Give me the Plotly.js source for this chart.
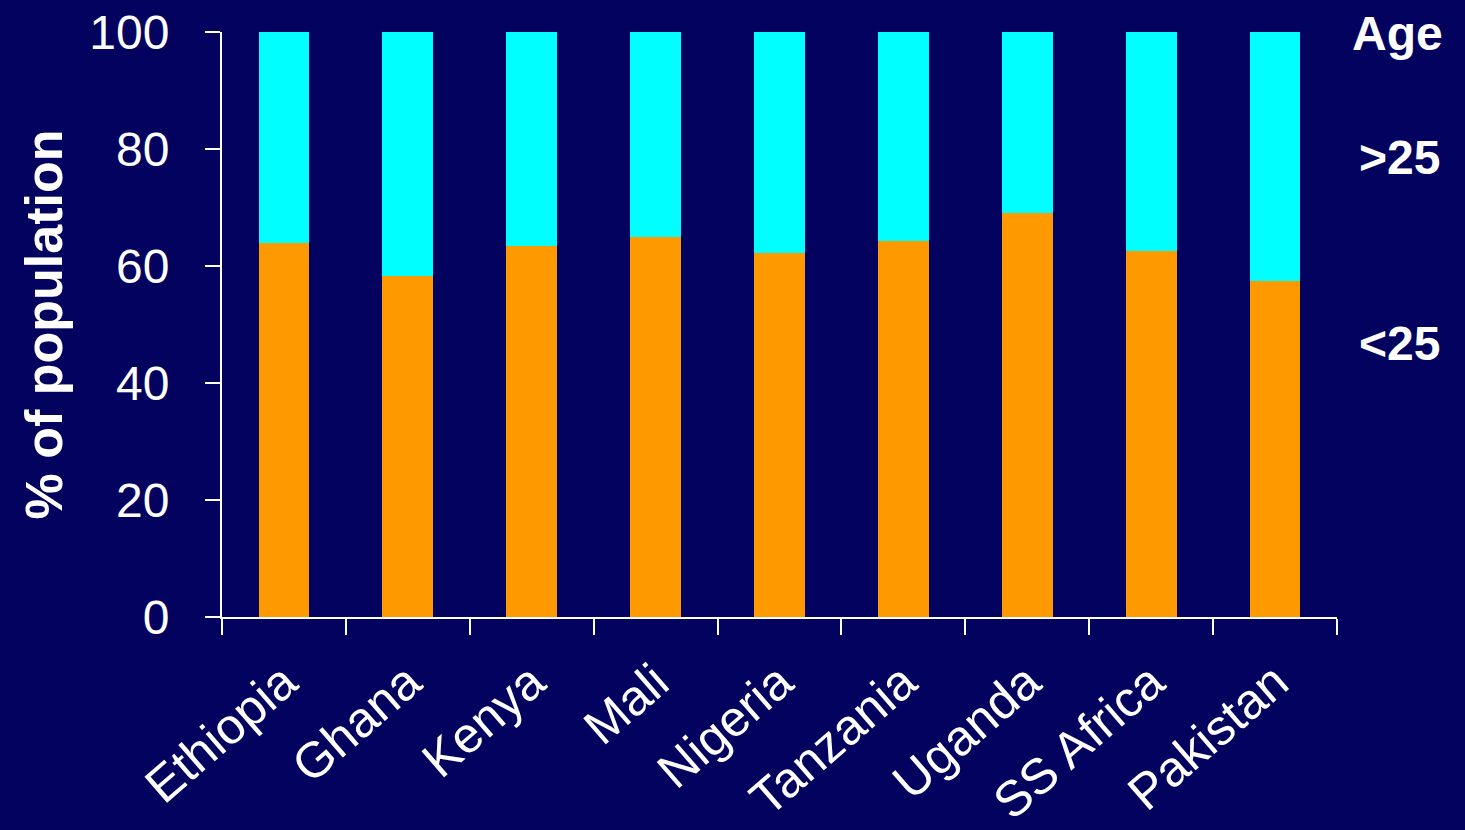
<!DOCTYPE html>
<html>
<head>
<meta charset="utf-8">
<script src="https://cdn.plot.ly/plotly-3.0.1.min.js"></script>
<style>
  html, body { margin: 0; padding: 0; background: #03035f; }
  #chart { width: 1465px; height: 830px; }
</style>
</head>
<body>
<div id="chart"></div>
<script>
// Population share by age group, per country
const countries = ["Ethiopia", "Ghana", "Kenya", "Mali", "Nigeria", "Tanzania", "Uganda", "SS Africa", "Pakistan"];
const under25 = [63.9, 58.3, 63.4, 64.9, 62.3, 64.3, 69.0, 62.6, 57.4];
const over25  = [36.1, 41.7, 36.6, 35.1, 37.7, 35.7, 31.0, 37.4, 42.6];
const yTicks = [0, 20, 40, 60, 80, 100];

const bg = "#03035f";
const fontFamily = "Liberation Sans, Arial, sans-serif";

const traces = [
  { type: "bar", name: "<25", x: countries, y: under25, width: 0.41,
    marker: { color: "#ff9900", line: { width: 0 } }, hoverinfo: "x+y" },
  { type: "bar", name: ">25", x: countries, y: over25, width: 0.41,
    marker: { color: "#00ffff", line: { width: 0 } }, hoverinfo: "x+y" }
];

// Legend-style labels at the right of the plot
const sideLabel = (text, x, y) => ({
  text: text, xref: "paper", yref: "paper", x: x, y: y,
  xanchor: "left", yanchor: "middle", showarrow: false,
  font: { size: 48, color: "#ffffff", family: fontFamily }
});

const layout = {
  width: 1465, height: 830,
  barmode: "stack",
  paper_bgcolor: bg, plot_bgcolor: bg,
  showlegend: false,
  margin: { l: 222, r: 128, t: 32, b: 213, pad: 0 },
  font: { family: fontFamily, color: "#ffffff" },
  xaxis: {
    type: "category",
    showline: true, linecolor: "#ffffff", linewidth: 2,
    ticks: "outside", tickson: "boundaries", ticklen: 16, tickwidth: 2, tickcolor: "#ffffff",
    tickangle: -41,
    ticklabelstandoff: 14,
    tickfont: { size: 50, color: "#ffffff", family: fontFamily },
    showgrid: false, zeroline: false
  },
  yaxis: {
    range: [0, 100],
    tickvals: yTicks,
    ticktext: yTicks.map(String),
    showline: true, linecolor: "#ffffff", linewidth: 2,
    ticks: "outside", ticklen: 15, tickwidth: 2, tickcolor: "#ffffff",
    ticklabelstandoff: 26,
    tickfont: { size: 48, color: "#ffffff", family: fontFamily },
    showgrid: false, zeroline: false,
    title: { text: "<b>% of population</b>", standoff: 10,
             font: { size: 52, color: "#ffffff", family: fontFamily } }
  },
  annotations: [
    sideLabel("<b>Age</b>", 1.0117, 0.998),
    sideLabel("<b>>25</b>", 1.018, 0.786),
    sideLabel("<b><25</b>", 1.018, 0.468)
  ]
};

Plotly.newPlot("chart", traces, layout, { displayModeBar: false, staticPlot: true });
</script>
</body>
</html>
